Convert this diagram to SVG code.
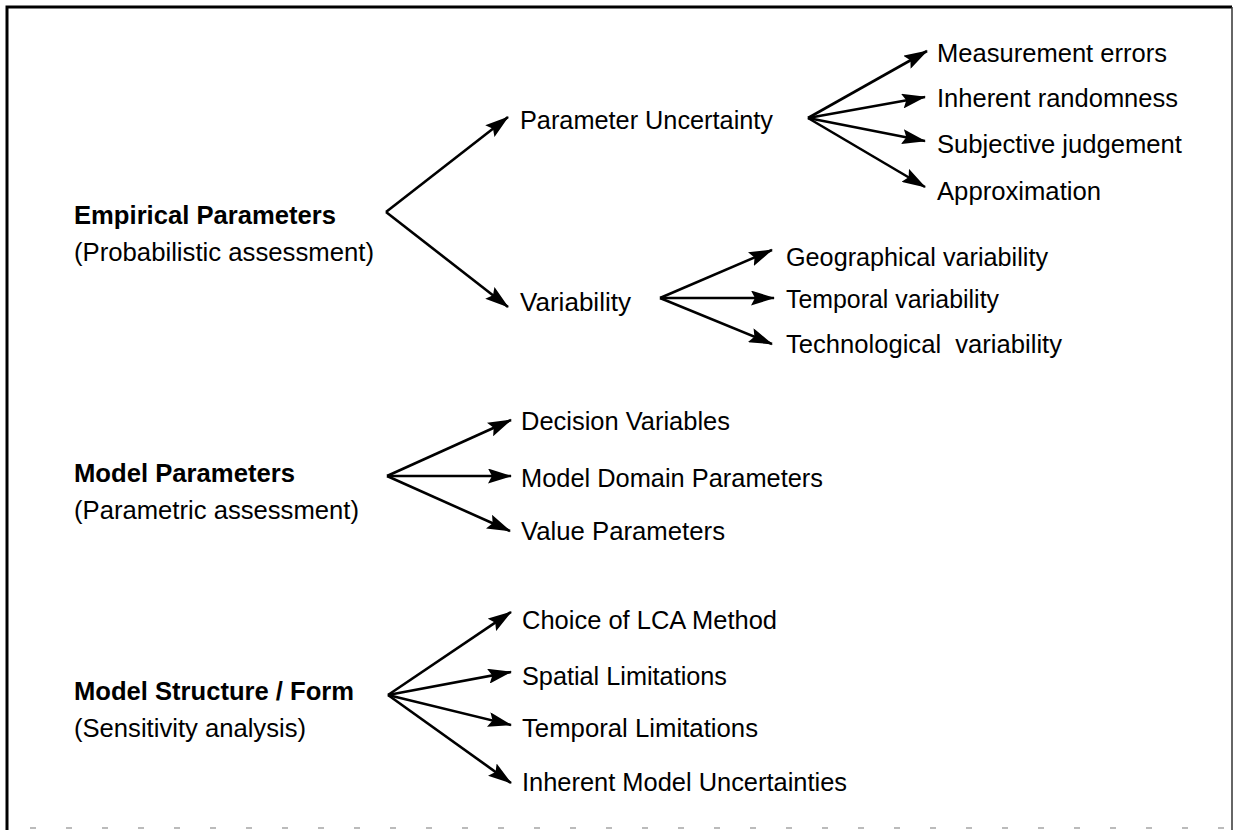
<svg xmlns="http://www.w3.org/2000/svg" width="1234" height="830" viewBox="0 0 1234 830">
<defs>
<marker id="ah" viewBox="0 0 24 15" refX="23" refY="7.5" markerWidth="24" markerHeight="15" markerUnits="userSpaceOnUse" orient="auto">
<path d="M0,0 L24,7.5 L0,15 L4,7.5 Z" fill="#000"/>
</marker>
<style>
.t{font-family:"Liberation Sans",Arial,sans-serif;font-size:25px;fill:#000}
.b{font-weight:bold}
.c{stroke:#000;stroke-width:2.6;fill:none;marker-end:url(#ah)}
</style>
</defs>
<rect width="1234" height="830" fill="#fff"/>
<g id="frame">
<path d="M7,830 L7,7 L1232,7" fill="none" stroke="#000" stroke-width="3"/>
<line x1="1232" y1="7" x2="1232" y2="830" stroke="#333" stroke-width="1.5"/>
<line x1="30" y1="828" x2="1234" y2="828" stroke="#bbb" stroke-width="2" stroke-dasharray="6,30"/>
</g>
<g id="connectors">
<line class="c" x1="386" y1="212" x2="508" y2="117"/>
<line class="c" x1="386" y1="212" x2="508" y2="307"/>
<line class="c" x1="808" y1="118" x2="927" y2="51"/>
<line class="c" x1="808" y1="118" x2="925" y2="97"/>
<line class="c" x1="808" y1="118" x2="925" y2="141"/>
<line class="c" x1="808" y1="118" x2="925" y2="187"/>
<line class="c" x1="660" y1="298" x2="772" y2="250"/>
<line class="c" x1="660" y1="298" x2="774" y2="298"/>
<line class="c" x1="660" y1="298" x2="772" y2="344"/>
<line class="c" x1="387" y1="476" x2="511" y2="420"/>
<line class="c" x1="387" y1="476" x2="511" y2="476"/>
<line class="c" x1="387" y1="476" x2="510" y2="531"/>
<line class="c" x1="388" y1="695" x2="511" y2="612"/>
<line class="c" x1="388" y1="695" x2="511" y2="672"/>
<line class="c" x1="388" y1="695" x2="511" y2="725"/>
<line class="c" x1="388" y1="695" x2="511" y2="783"/>
</g>
<g id="empirical">
<text class="t b" x="74" y="224" textLength="262" lengthAdjust="spacingAndGlyphs">Empirical Parameters</text>
<text class="t" x="74" y="261" textLength="300" lengthAdjust="spacingAndGlyphs">(Probabilistic assessment)</text>
</g>
<g id="param-uncertainty"><text class="t" x="520" y="129" textLength="253" lengthAdjust="spacingAndGlyphs">Parameter Uncertainty</text></g>
<g id="measurement"><text class="t" x="937" y="62" textLength="230" lengthAdjust="spacingAndGlyphs">Measurement errors</text></g>
<g id="randomness"><text class="t" x="937" y="107" textLength="241" lengthAdjust="spacingAndGlyphs">Inherent randomness</text></g>
<g id="subjective"><text class="t" x="937" y="153" textLength="245" lengthAdjust="spacingAndGlyphs">Subjective judgement</text></g>
<g id="approx"><text class="t" x="937" y="200" textLength="164" lengthAdjust="spacingAndGlyphs">Approximation</text></g>
<g id="variability"><text class="t" x="520" y="311" textLength="111" lengthAdjust="spacingAndGlyphs">Variability</text></g>
<g id="geo"><text class="t" x="786" y="266" textLength="262" lengthAdjust="spacingAndGlyphs">Geographical variability</text></g>
<g id="temporal-var"><text class="t" x="786" y="308" textLength="213" lengthAdjust="spacingAndGlyphs">Temporal variability</text></g>
<g id="tech"><text class="t" x="786" y="353" xml:space="preserve" textLength="276" lengthAdjust="spacingAndGlyphs">Technological  variability</text></g>
<g id="model-params">
<text class="t b" x="74" y="482" textLength="221" lengthAdjust="spacingAndGlyphs">Model Parameters</text>
<text class="t" x="74" y="519" textLength="285" lengthAdjust="spacingAndGlyphs">(Parametric assessment)</text>
</g>
<g id="decision"><text class="t" x="521" y="430" textLength="209" lengthAdjust="spacingAndGlyphs">Decision Variables</text></g>
<g id="domain"><text class="t" x="521" y="487" textLength="302" lengthAdjust="spacingAndGlyphs">Model Domain Parameters</text></g>
<g id="value"><text class="t" x="521" y="540" textLength="204" lengthAdjust="spacingAndGlyphs">Value Parameters</text></g>
<g id="model-structure">
<text class="t b" x="74" y="700" textLength="280" lengthAdjust="spacingAndGlyphs">Model Structure / Form</text>
<text class="t" x="74" y="737" textLength="232" lengthAdjust="spacingAndGlyphs">(Sensitivity analysis)</text>
</g>
<g id="lca"><text class="t" x="522" y="629" textLength="255" lengthAdjust="spacingAndGlyphs">Choice of LCA Method</text></g>
<g id="spatial"><text class="t" x="522" y="685" textLength="205" lengthAdjust="spacingAndGlyphs">Spatial Limitations</text></g>
<g id="temporal-lim"><text class="t" x="522" y="737" textLength="236" lengthAdjust="spacingAndGlyphs">Temporal Limitations</text></g>
<g id="inherent-model"><text class="t" x="522" y="791" textLength="325" lengthAdjust="spacingAndGlyphs">Inherent Model Uncertainties</text></g>
</svg>
